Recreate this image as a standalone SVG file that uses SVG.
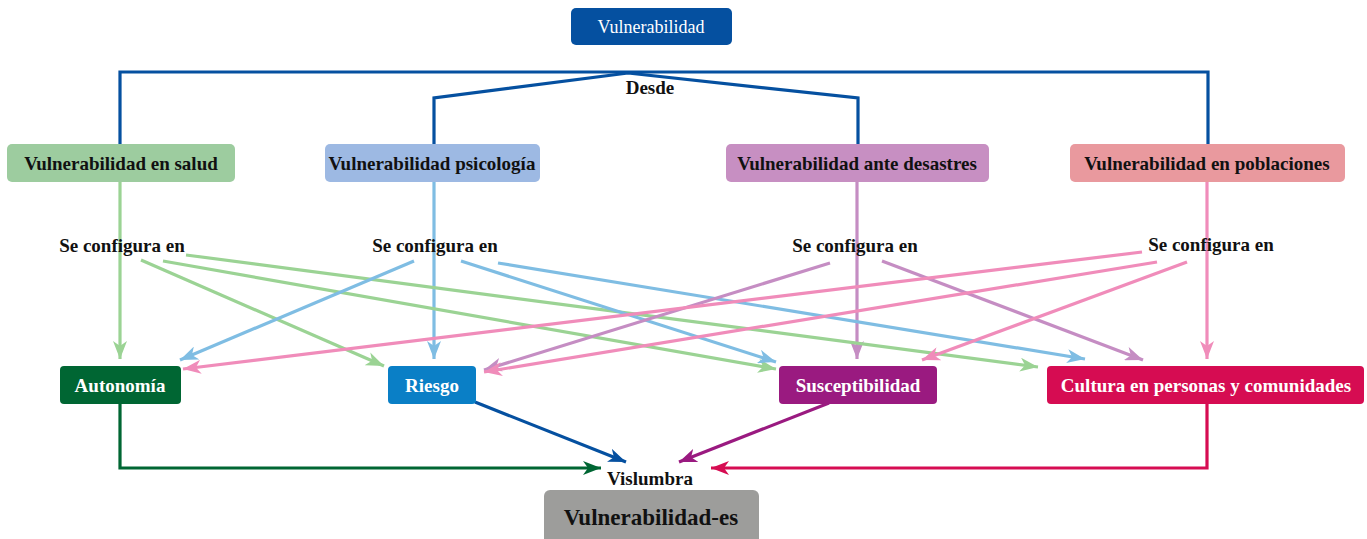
<svg xmlns="http://www.w3.org/2000/svg" width="1367" height="539" viewBox="0 0 1367 539">
<style>
.lbl{font-family:"Liberation Serif",serif;font-weight:bold;font-size:19px;text-anchor:middle;fill:#111}
.wl{font-family:"Liberation Serif",serif;font-weight:bold;font-size:19px;text-anchor:middle;fill:#fff}
.ln{fill:none;stroke-width:3.2;stroke-linejoin:miter}
</style>
<defs>
<marker id="aG" viewBox="0 0 18 14" refX="18" refY="7" markerWidth="18" markerHeight="14" markerUnits="userSpaceOnUse" orient="auto"><path d="M0,0 L18,7 L0,14 L5,7 z" fill="#9bd394"/></marker>
<marker id="aB" viewBox="0 0 18 14" refX="18" refY="7" markerWidth="18" markerHeight="14" markerUnits="userSpaceOnUse" orient="auto"><path d="M0,0 L18,7 L0,14 L5,7 z" fill="#7fbde3"/></marker>
<marker id="aP" viewBox="0 0 18 14" refX="18" refY="7" markerWidth="18" markerHeight="14" markerUnits="userSpaceOnUse" orient="auto"><path d="M0,0 L18,7 L0,14 L5,7 z" fill="#c58dc3"/></marker>
<marker id="aK" viewBox="0 0 18 14" refX="18" refY="7" markerWidth="18" markerHeight="14" markerUnits="userSpaceOnUse" orient="auto"><path d="M0,0 L18,7 L0,14 L5,7 z" fill="#f08cba"/></marker>
<marker id="aDG" viewBox="0 0 18 14" refX="18" refY="7" markerWidth="18" markerHeight="14" markerUnits="userSpaceOnUse" orient="auto"><path d="M0,0 L18,7 L0,14 L5,7 z" fill="#006633"/></marker>
<marker id="aDB" viewBox="0 0 18 14" refX="18" refY="7" markerWidth="18" markerHeight="14" markerUnits="userSpaceOnUse" orient="auto"><path d="M0,0 L18,7 L0,14 L5,7 z" fill="#0550a0"/></marker>
<marker id="aDP" viewBox="0 0 18 14" refX="18" refY="7" markerWidth="18" markerHeight="14" markerUnits="userSpaceOnUse" orient="auto"><path d="M0,0 L18,7 L0,14 L5,7 z" fill="#9a1a80"/></marker>
<marker id="aDR" viewBox="0 0 18 14" refX="18" refY="7" markerWidth="18" markerHeight="14" markerUnits="userSpaceOnUse" orient="auto"><path d="M0,0 L18,7 L0,14 L5,7 z" fill="#d60c52"/></marker>
</defs>
<rect width="1367" height="539" fill="#fff"/>
<g id="connectors">
<path class="ln" stroke="#0550a0" d="M120,144 V72 H1208 V144"/>
<path class="ln" stroke="#0550a0" d="M434,144 V98 L628,73 L858,98 V144"/>
<path class="ln" stroke="#9bd394" d="M120,182 V359" marker-end="url(#aG)"/>
<path class="ln" stroke="#7fbde3" d="M434,182 V359" marker-end="url(#aB)"/>
<path class="ln" stroke="#c58dc3" d="M857,182 V359" marker-end="url(#aP)"/>
<path class="ln" stroke="#f08cba" d="M1207,182 V359" marker-end="url(#aK)"/>
<path class="ln" stroke="#9bd394" d="M141,260 L384,366" marker-end="url(#aG)"/>
<path class="ln" stroke="#9bd394" d="M163,261 L776,369" marker-end="url(#aG)"/>
<path class="ln" stroke="#9bd394" d="M186,255 L1038,367" marker-end="url(#aG)"/>
<path class="ln" stroke="#7fbde3" d="M414,261 L180,360" marker-end="url(#aB)"/>
<path class="ln" stroke="#7fbde3" d="M461,261 L776,362" marker-end="url(#aB)"/>
<path class="ln" stroke="#7fbde3" d="M498,263 L1085,359" marker-end="url(#aB)"/>
<path class="ln" stroke="#c58dc3" d="M830,263 L484,370" marker-end="url(#aP)"/>
<path class="ln" stroke="#c58dc3" d="M882,261 L1143,360" marker-end="url(#aP)"/>
<path class="ln" stroke="#f08cba" d="M1142,252 L183,369" marker-end="url(#aK)"/>
<path class="ln" stroke="#f08cba" d="M1157,262 L484,372" marker-end="url(#aK)"/>
<path class="ln" stroke="#f08cba" d="M1187,262 L922,360" marker-end="url(#aK)"/>
<path class="ln" stroke="#006633" d="M120,404 V468 H601" marker-end="url(#aDG)"/>
<path class="ln" stroke="#0550a0" d="M475,402 L626,462" marker-end="url(#aDB)"/>
<path class="ln" stroke="#9a1a80" d="M829,403 L679,462" marker-end="url(#aDP)"/>
<path class="ln" stroke="#d60c52" d="M1207,404 V468 H711" marker-end="url(#aDR)"/>
<text class="lbl" x="650" y="94">Desde</text>
<text class="lbl" x="122" y="252">Se configura en</text>
<text class="lbl" x="435" y="252">Se configura en</text>
<text class="lbl" x="855" y="252">Se configura en</text>
<text class="lbl" x="1211" y="251">Se configura en</text>
<text class="lbl" x="650" y="485">Vislumbra</text>
</g>
<g id="n_top"><rect x="571" y="8" width="161" height="37" rx="5" fill="#0550a0"/><text x="651" y="33" style="font-family:'Liberation Serif',serif;font-size:18px;text-anchor:middle;fill:#fff">Vulnerabilidad</text></g>
<g id="n_salud"><rect x="7" y="144" width="228" height="38" rx="5" fill="#9dcc9f"/><text class="lbl" x="121" y="170">Vulnerabilidad en salud</text></g>
<g id="n_psico"><rect x="325" y="144" width="215" height="38" rx="5" fill="#9db9e3"/><text class="lbl" x="432" y="170">Vulnerabilidad psicología</text></g>
<g id="n_desastres"><rect x="726" y="144" width="263" height="38" rx="5" fill="#c78fc2"/><text class="lbl" x="857" y="170">Vulnerabilidad ante desastres</text></g>
<g id="n_poblaciones"><rect x="1070" y="144" width="275" height="38" rx="5" fill="#e9999e"/><text class="lbl" x="1207" y="170">Vulnerabilidad en poblaciones</text></g>
<g id="n_autonomia"><rect x="60" y="366" width="121" height="38" rx="4" fill="#006633"/><text class="wl" x="120" y="392">Autonomía</text></g>
<g id="n_riesgo"><rect x="388" y="366" width="88" height="38" rx="4" fill="#0a7fc6"/><text class="wl" x="432" y="392">Riesgo</text></g>
<g id="n_suscept"><rect x="779" y="366" width="158" height="38" rx="4" fill="#9a1a80"/><text class="wl" x="858" y="392">Susceptibilidad</text></g>
<g id="n_cultura"><rect x="1047" y="366" width="317" height="38" rx="4" fill="#d60c52"/><text class="wl" x="1206" y="392">Cultura en personas y comunidades</text></g>
<g id="n_bottom"><rect x="544" y="490" width="215" height="54" rx="6" fill="#9d9d9b"/><text x="651" y="525" style="font-family:'Liberation Serif',serif;font-weight:bold;font-size:23px;text-anchor:middle;fill:#111">Vulnerabilidad-es</text></g>
</svg>
